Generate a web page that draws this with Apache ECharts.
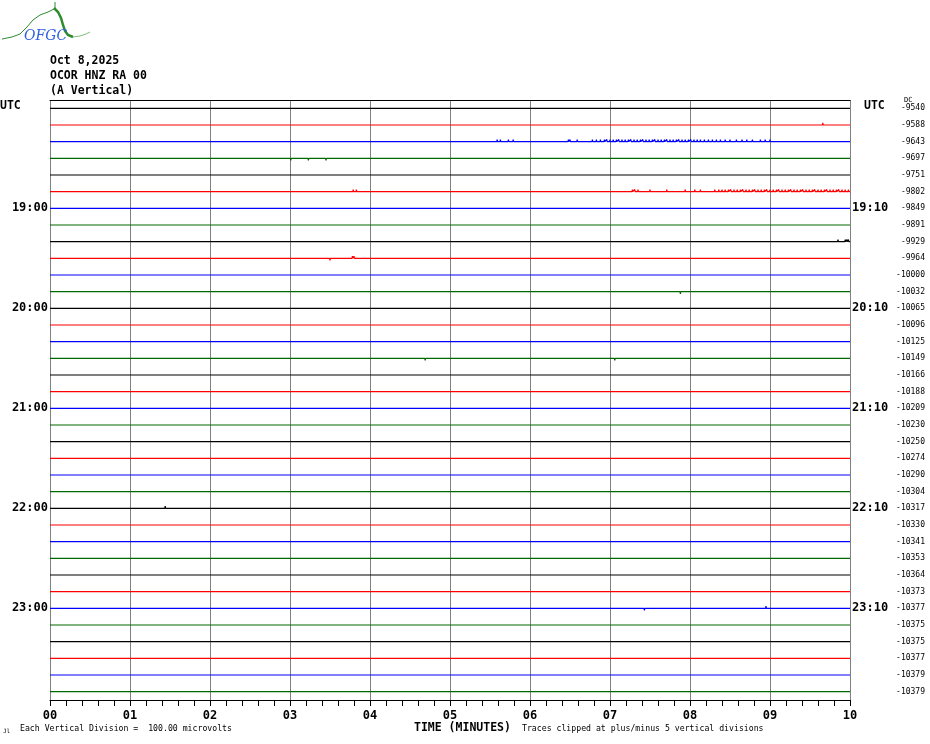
<!DOCTYPE html>
<html>
<head>
<meta charset="utf-8">
<script src="https://cdn.jsdelivr.net/npm/echarts@6/dist/echarts.min.js"></script>
<style>html,body{margin:0;padding:0;background:#fff}#c{width:930px;height:744px}</style>
</head>
<body>
<div id="c"></div>
<script>
// ---- data ----
const traceCount = 36;
const traceColors = ['#000000', '#ff0000', '#0000ff', '#006a00'];
const minuteTicks = ['00','01','02','03','04','05','06','07','08','09','10'];
const labelRows = [6, 12, 18, 24, 30];
const leftTimeLabels = ['19:00', '20:00', '21:00', '22:00', '23:00'];
const rightTimeLabels = ['19:10', '20:10', '21:10', '22:10', '23:10'];
const dcValues = [-9540, -9588, -9643, -9697, -9751, -9802, -9849, -9891, -9929, -9964,
  -10000, -10032, -10065, -10096, -10125, -10149, -10166, -10188, -10209, -10230,
  -10250, -10274, -10290, -10304, -10317, -10330, -10341, -10353, -10364, -10373,
  -10377, -10375, -10375, -10377, -10379, -10379];
// spikes: [row, minute, deflection in trace spacings (positive = up)]
const row2Minutes = [5.59, 5.63, 5.73, 5.79, 6.48, 6.50, 6.59, 6.78, 6.83, 6.88, 6.93, 6.96, 7.00,
  7.04, 7.08, 7.11, 7.15, 7.19, 7.23, 7.26, 7.30, 7.34, 7.38, 7.41, 7.45, 7.49, 7.53, 7.56, 7.60,
  7.64, 7.68, 7.71, 7.75, 7.79, 7.83, 7.86, 7.90, 7.94, 7.98, 8.01, 8.05, 8.09, 8.13, 8.18, 8.23,
  8.28, 8.33, 8.38, 8.44, 8.50, 8.58, 8.65, 8.71, 8.78, 8.88, 8.94, 9.00];
const row5Minutes = [3.79, 3.83, 7.28, 7.31, 7.35, 7.50, 7.71, 7.94, 8.06, 8.13, 8.31, 8.36, 8.40,
  8.44, 8.48, 8.51, 8.55, 8.59, 8.63, 8.66, 8.70, 8.74, 8.78, 8.81, 8.85, 8.89, 8.93, 8.96, 9.00,
  9.04, 9.08, 9.11, 9.15, 9.19, 9.23, 9.26, 9.30, 9.34, 9.38, 9.41, 9.45, 9.49, 9.53, 9.56, 9.60,
  9.64, 9.68, 9.71, 9.75, 9.79, 9.83, 9.86, 9.90, 9.94, 9.98];
const otherSpikes = [
  [1, 9.66, 0.13],
  [3, 3.01, -0.13], [3, 3.23, -0.13], [3, 3.45, -0.13],
  [8, 9.85, 0.13], [8, 9.94, 0.13], [8, 9.96, 0.13], [8, 9.98, 0.13],
  [9, 3.50, -0.13], [9, 3.78, 0.13], [9, 3.80, 0.13],
  [11, 7.88, -0.13],
  [15, 4.69, -0.13], [15, 7.06, -0.13],
  [24, 1.44, 0.13],
  [30, 7.43, -0.13], [30, 8.95, 0.13]
];
// ---- build ----
const spikes = otherSpikes.slice();
row2Minutes.forEach(m => spikes.push([2, m, 0.13]));
row5Minutes.forEach(m => spikes.push([5, m, 0.13]));

const series = [];
for (let r = 0; r < traceCount; r++) {
  const sp = spikes.filter(s => s[0] === r).sort((a, b) => a[1] - b[1]);
  const data = [[0, r]];
  sp.forEach(s => {
    data.push([s[1] - 0.005, r]);
    data.push([s[1], r - s[2]]);
    data.push([Math.min(10, s[1] + 0.005), r]);
  });
  data.push([10, r]);
  series.push({
    type: 'line', xAxisIndex: 0, yAxisIndex: 0, data: data,
    showSymbol: false, symbol: 'none', silent: true, animation: false,
    lineStyle: { color: traceColors[r % 4], width: 1.2 }
  });
}
const leftCats = [], rightCats = [], dcCats = [];
for (let r = 0; r < traceCount; r++) {
  const k = labelRows.indexOf(r);
  leftCats.push(k >= 0 ? leftTimeLabels[k] : ' ' + r);
  rightCats.push(k >= 0 ? rightTimeLabels[k] : ' ' + r);
  dcCats.push(String(dcValues[r]));
}
const mono = 'DejaVu Sans Mono';
const chart = echarts.init(document.getElementById('c'), null, { renderer: 'canvas' });
chart.setOption({
  backgroundColor: '#ffffff',
  animation: false,
  grid: { left: 50, right: 80, top: 100, height: 600, containLabel: false },
  xAxis: [{
    type: 'value', min: 0, max: 10, interval: 1, position: 'bottom',
    axisLine: { show: true, onZero: false, lineStyle: { color: '#000', width: 1 } },
    axisTick: { show: true, inside: false, length: 6, lineStyle: { color: '#000' } },
    minorTick: { show: true, splitNumber: 5, length: 6, lineStyle: { color: '#000' } },
    splitLine: { show: true, lineStyle: { color: '#808080', width: 1 } },
    axisLabel: { margin: 10, color: '#000', fontFamily: mono, fontWeight: 'bold', fontSize: 12,
      formatter: v => minuteTicks[Math.round(v)] }
  }, {
    type: 'value', min: 0, max: 10, position: 'top',
    axisLine: { show: true, onZero: false, lineStyle: { color: '#000', width: 1 } },
    axisTick: { show: false }, axisLabel: { show: false }, splitLine: { show: false }
  }],
  yAxis: [{
    type: 'value', min: -0.5, max: 35.5, inverse: true, show: false, splitLine: { show: false }
  }, {
    type: 'category', data: leftCats, inverse: true, position: 'left',
    axisLine: { show: false, onZero: false }, axisTick: { show: false },
    axisLabel: { interval: 0, margin: 2, color: '#000', fontFamily: mono, fontWeight: 'bold', fontSize: 12,
      formatter: v => v.charAt(0) === ' ' ? '' : v }
  }, {
    type: 'category', data: rightCats, inverse: true, position: 'right',
    axisLine: { show: false, onZero: false }, axisTick: { show: false },
    axisLabel: { interval: 0, margin: 2, color: '#000', fontFamily: mono, fontWeight: 'bold', fontSize: 12,
      formatter: v => v.charAt(0) === ' ' ? '' : v }
  }, {
    type: 'category', data: dcCats, inverse: true, position: 'right',
    axisLine: { show: false, onZero: false }, axisTick: { show: false },
    axisLabel: { interval: 0, margin: 75, align: 'right', color: '#000', fontFamily: mono, fontSize: 8 }
  }],
  series: series,
  graphic: [
    { type: 'polyline', silent: true, shape: { points: [[2,39],[12,37],[20,34],[27,27],[33,20],[40,15],[48,12],[54,9]] },
      style: { stroke: '#2e8b2e', lineWidth: 1, fill: null } },
    { type: 'line', silent: true, shape: { x1: 55, y1: 2, x2: 55, y2: 9 }, style: { stroke: '#2e8b2e', lineWidth: 1 } },
    { type: 'polyline', silent: true, shape: { points: [[54,8],[58,12],[61,18],[63,25],[65,31],[68,35],[73,37]] },
      style: { stroke: '#2e8b2e', lineWidth: 2.5, fill: null } },
    { type: 'polyline', silent: true, shape: { points: [[73,37],[80,36],[86,34],[90,32]] },
      style: { stroke: '#7fbf7f', lineWidth: 1, fill: null } },
    { type: 'text', silent: true, left: 24, top: 29,
      style: { text: 'OFGC', fill: '#3060e0', font: 'italic 14px "DejaVu Serif"' } },
    { type: 'text', silent: true, left: 50, top: 55, style: { text: 'Oct 8,2025', fill: '#000', font: 'bold 11.5px "DejaVu Sans Mono"' } },
    { type: 'text', silent: true, left: 50, top: 70, style: { text: 'OCOR HNZ RA 00', fill: '#000', font: 'bold 11.5px "DejaVu Sans Mono"' } },
    { type: 'text', silent: true, left: 50, top: 85, style: { text: '(A Vertical)', fill: '#000', font: 'bold 11.5px "DejaVu Sans Mono"' } },
    { type: 'text', silent: true, left: 0, top: 100, style: { text: 'UTC', fill: '#000', font: 'bold 11.5px "DejaVu Sans Mono"' } },
    { type: 'text', silent: true, left: 864, top: 100, style: { text: 'UTC', fill: '#000', font: 'bold 11.5px "DejaVu Sans Mono"' } },
    { type: 'text', silent: true, left: 904, top: 97, style: { text: 'DC', fill: '#000', font: '7px "DejaVu Sans Mono"' } },
    { type: 'text', silent: true, left: 3, top: 728, style: { text: 'Jl', fill: '#000', font: '6px "DejaVu Sans Mono"' } },
    { type: 'text', silent: true, left: 20, top: 725, style: { text: 'Each Vertical Division =  100.00 microvolts', fill: '#000', font: '8.2px "DejaVu Sans Mono"' } },
    { type: 'text', silent: true, left: 414, top: 722, style: { text: 'TIME (MINUTES)', fill: '#000', font: 'bold 11.5px "DejaVu Sans Mono"' } },
    { type: 'text', silent: true, left: 522, top: 725, style: { text: 'Traces clipped at plus/minus 5 vertical divisions', fill: '#000', font: '8.2px "DejaVu Sans Mono"' } }
  ]
});
</script>
</body>
</html>
